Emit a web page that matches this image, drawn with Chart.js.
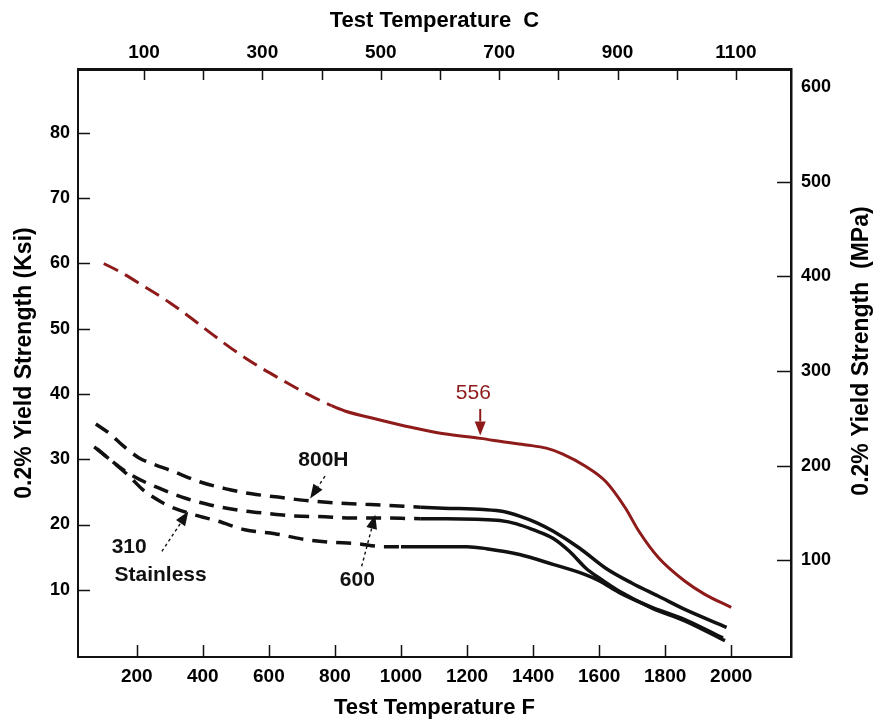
<!DOCTYPE html>
<html>
<head>
<meta charset="utf-8">
<title>Yield strength vs test temperature</title>
<script src="https://cdn.jsdelivr.net/npm/chart.js@4.4.1/dist/chart.umd.min.js"></script>
<style>
  html, body { margin: 0; padding: 0; background: #fff; }
  #wrap { width: 877px; height: 721px; }
</style>
</head>
<body>
<div id="wrap"><canvas id="chart" width="877" height="721"></canvas></div>
<script>
// ========== DATA ==========
const F_TICKS = [200, 400, 600, 800, 1000, 1200, 1400, 1600, 1800, 2000];
const C_TICKS = [100, 200, 300, 400, 500, 600, 700, 800, 900, 1000, 1100];
const KSI_TICKS = [10, 20, 30, 40, 50, 60, 70, 80];
const MPA_TICKS = [100, 200, 300, 400, 500, 600];

// alloy 556 (red)
const temp556 = [100, 150, 225, 300, 360, 430, 500, 570, 645, 720, 790, 830, 930, 1030, 1130, 1240, 1320, 1380, 1440, 1490, 1560, 1620, 1680, 1720, 1780, 1860, 1920, 2000];
const ksi556 = [60.0, 58.7, 56.4, 54.0, 51.8, 49.1, 46.5, 44.2, 42.0, 39.9, 38.2, 37.4, 36.1, 34.9, 33.9, 33.2, 32.6, 32.2, 31.7, 30.8, 28.9, 26.6, 22.5, 19.0, 14.9, 11.3, 9.3, 7.3];

// alloy 800H
const temp800H = [76, 116, 160, 207, 247, 307, 387, 467, 548, 628, 708, 808, 908, 1009, 1060, 1129, 1250, 1310, 1359, 1410, 1460, 1540, 1620, 1700, 1780, 1861, 1986];
const ksi800H = [35.4, 34.0, 32.0, 30.2, 29.3, 28.2, 26.6, 25.5, 24.7, 24.2, 23.7, 23.3, 23.05, 22.8, 22.65, 22.5, 22.3, 22.0, 21.3, 20.3, 19.0, 16.4, 13.3, 11.0, 9.0, 6.95, 4.25];

// alloy 600
const temp600 = [71, 176, 266, 337, 422, 508, 594, 679, 769, 850, 940, 1060, 1140, 1230, 1300, 1350, 1400, 1460, 1510, 1560, 1600, 1660, 1760, 1861, 1981];
const ksi600 = [31.9, 27.8, 25.6, 24.2, 23.0, 22.2, 21.7, 21.3, 21.2, 21.0, 21.0, 20.9, 20.9, 20.8, 20.6, 20.1, 19.2, 17.9, 15.9, 13.3, 11.8, 9.8, 7.2, 5.2, 2.2];

// 310 stainless
const temp310 = [80, 177, 217, 287, 367, 447, 527, 618, 698, 783, 863, 948, 1000, 1079, 1199, 1259, 1359, 1460, 1560, 1600, 1660, 1760, 1861, 1975];
const ksi310 = [31.6, 27.4, 25.4, 23.1, 21.6, 20.5, 19.2, 18.6, 17.8, 17.3, 17.1, 16.6, 16.6, 16.6, 16.6, 16.3, 15.4, 13.9, 12.3, 11.4, 9.6, 7.3, 5.4, 2.6];

// ========== STYLE ==========
const FONT = "'Liberation Sans', Arial, Helvetica, sans-serif";
const RED = "#8e1a1a";
const INK = "#111111";

// where each curve turns from dashed to solid (deg F)
const DASH_UNTIL_556 = 800;
const DASH_UNTIL_800H = 1060;
const DASH_UNTIL_600 = 1060;
const DASH_UNTIL_310 = 1000;

// callouts in data units (deg F, ksi)
const curveLabels = [
  { text: "556", x: 1219, y: 40.1, color: RED, weight: "normal" },
  { text: "800H", x: 765, y: 29.85, color: INK, weight: "bold" },
  { text: "600", x: 868, y: 11.4, color: INK, weight: "bold" },
  { text: "310", x: 177, y: 16.45, color: INK, weight: "bold" },
  { text: "Stainless", x: 272, y: 12.2, color: INK, weight: "bold" },
];
const arrows = [
  { from: [1240, 37.7], to: [1240, 33.65], color: RED, dashed: false },
  { from: [770, 27.4], to: [725, 24.0], color: INK, dashed: true },
  { from: [881, 13.6], to: [922, 21.5], color: INK, dashed: true },
  { from: [276, 15.9], to: [356, 22.0], color: INK, dashed: true },
];

// ========== SERIES ==========
const makeSeries = (label, temps, vals, color, width, dashUntil, dash) => ({
  label,
  data: temps.map((t, i) => ({ x: t, y: vals[i] })),
  borderColor: color,
  borderWidth: width,
  pointRadius: 0,
  fill: false,
  cubicInterpolationMode: "monotone",
  xAxisID: "x",
  yAxisID: "y",
  segment: {
    borderDash: (c) => (c.p1.parsed.x <= dashUntil ? dash : undefined),
  },
});

// ========== DECORATION PLUGIN ==========
const drawArrow = (ctx, x1, y1, x2, y2, color, dashed) => {
  const ang = Math.atan2(y2 - y1, x2 - x1);
  const headLen = 14;
  const headHalf = 5.5;
  const bx = x2 - headLen * Math.cos(ang);
  const by = y2 - headLen * Math.sin(ang);
  ctx.save();
  ctx.strokeStyle = color;
  ctx.fillStyle = color;
  ctx.lineWidth = dashed ? 1.4 : 2;
  ctx.setLineDash(dashed ? [3, 3] : []);
  ctx.beginPath();
  ctx.moveTo(x1, y1);
  ctx.lineTo(bx, by);
  ctx.stroke();
  ctx.setLineDash([]);
  ctx.beginPath();
  ctx.moveTo(x2, y2);
  ctx.lineTo(bx + headHalf * Math.sin(ang), by - headHalf * Math.cos(ang));
  ctx.lineTo(bx - headHalf * Math.sin(ang), by + headHalf * Math.cos(ang));
  ctx.closePath();
  ctx.fill();
  ctx.restore();
};

const decorPlugin = {
  id: "decor",
  afterDraw(chart) {
    const { ctx, chartArea, scales } = chart;
    const { x, xTop, y, yRight } = scales;
    ctx.save();

    // inward tick marks
    ctx.strokeStyle = INK;
    ctx.lineWidth = 1.5;
    ctx.beginPath();
    F_TICKS.forEach((v) => {
      const px = Math.round(x.getPixelForValue(v)) + 0.5;
      ctx.moveTo(px, chartArea.bottom);
      ctx.lineTo(px, chartArea.bottom - 12);
    });
    C_TICKS.forEach((v) => {
      const px = Math.round(xTop.getPixelForValue(v)) + 0.5;
      ctx.moveTo(px, chartArea.top);
      ctx.lineTo(px, chartArea.top + 11);
    });
    KSI_TICKS.forEach((v) => {
      const py = Math.round(y.getPixelForValue(v)) + 0.5;
      ctx.moveTo(chartArea.left, py);
      ctx.lineTo(chartArea.left + 12, py);
    });
    MPA_TICKS.slice(0, 5).forEach((v) => {
      const py = Math.round(yRight.getPixelForValue(v)) + 0.5;
      ctx.moveTo(chartArea.right, py);
      ctx.lineTo(chartArea.right - 14, py);
    });
    ctx.stroke();

    // right axis title, reading bottom to top
    ctx.save();
    ctx.translate(862, (chartArea.top + chartArea.bottom) / 2 - 12);
    ctx.rotate(-Math.PI / 2);
    ctx.fillStyle = "#000";
    ctx.font = `bold 23px ${FONT}`;
    ctx.textAlign = "center";
    ctx.textBaseline = "middle";
    ctx.fillText("0.2% Yield Strength  (MPa)", 0, 0);
    ctx.restore();

    // callout labels
    ctx.textAlign = "center";
    ctx.textBaseline = "middle";
    curveLabels.forEach((lab) => {
      ctx.fillStyle = lab.color;
      ctx.font = `${lab.weight} 21px ${FONT}`;
      ctx.fillText(lab.text, x.getPixelForValue(lab.x), y.getPixelForValue(lab.y));
    });

    // callout arrows
    arrows.forEach((a) => {
      drawArrow(
        ctx,
        x.getPixelForValue(a.from[0]), y.getPixelForValue(a.from[1]),
        x.getPixelForValue(a.to[0]), y.getPixelForValue(a.to[1]),
        a.color, a.dashed
      );
    });

    ctx.restore();
  },
};

// ========== CHART ==========
const tickFont = (size) => ({ family: FONT, size, weight: "bold" });
const hiddenGrid = { display: true, drawOnChartArea: false, drawTicks: false };
const plain = (v) => String(v);

new Chart(document.getElementById("chart"), {
  type: "line",
  data: {
    datasets: [
      makeSeries("556", temp556, ksi556, RED, 3, DASH_UNTIL_556, [16, 8]),
      makeSeries("800H", temp800H, ksi800H, INK, 3.5, DASH_UNTIL_800H, [15, 9]),
      makeSeries("600", temp600, ksi600, INK, 3.5, DASH_UNTIL_600, [15, 9]),
      makeSeries("310 Stainless", temp310, ksi310, INK, 3.5, DASH_UNTIL_310, [15, 9]),
    ],
  },
  options: {
    responsive: false,
    animation: false,
    devicePixelRatio: 1,
    layout: { padding: 0 },
    plugins: { legend: { display: false }, tooltip: { enabled: false } },
    scales: {
      x: {
        type: "linear",
        position: "bottom",
        min: 22,
        max: 2181,
        afterBuildTicks: (s) => { s.ticks = F_TICKS.map((v) => ({ value: v })); },
        afterFit: (s) => { s.height = 64; },
        grid: hiddenGrid,
        border: { display: true, color: INK, width: 2 },
        ticks: { color: "#000", font: tickFont(19), padding: 8, maxRotation: 0, autoSkip: false, callback: plain },
        title: {
          display: true, text: "Test Temperature F", color: "#000",
          font: tickFont(22), padding: { top: 0, bottom: 0 },
        },
      },
      xTop: {
        type: "linear",
        position: "top",
        min: -11.5,
        max: 1193,
        afterBuildTicks: (s) => { s.ticks = C_TICKS.map((v) => ({ value: v })); },
        afterFit: (s) => { s.height = 69; },
        grid: hiddenGrid,
        border: { display: true, color: INK, width: 3 },
        ticks: {
          color: "#000", font: tickFont(19), padding: 5, maxRotation: 0, autoSkip: false,
          callback: (v) => ((v / 100) % 2 === 1 ? String(v) : ""),
        },
        title: {
          display: true, text: "Test Temperature  C", color: "#000",
          font: tickFont(22), padding: { top: 8, bottom: 0 },
        },
      },
      y: {
        type: "linear",
        position: "left",
        min: -0.3,
        max: 89.8,
        afterBuildTicks: (s) => { s.ticks = KSI_TICKS.map((v) => ({ value: v })); },
        afterFit: (s) => { s.width = 78; },
        grid: hiddenGrid,
        border: { display: true, color: INK, width: 2 },
        ticks: { color: "#000", font: tickFont(18), padding: 8, callback: plain },
        title: {
          display: true, text: "0.2% Yield Strength (Ksi)", color: "#000",
          font: tickFont(23), padding: { top: 11, bottom: 0 },
        },
      },
      yRight: {
        type: "linear",
        position: "right",
        min: -2,
        max: 619,
        afterBuildTicks: (s) => { s.ticks = MPA_TICKS.map((v) => ({ value: v })); },
        afterFit: (s) => { s.width = 86; },
        grid: hiddenGrid,
        border: { display: true, color: INK, width: 2.5 },
        ticks: { color: "#000", font: tickFont(18), padding: 10, callback: plain },
      },
    },
  },
  plugins: [decorPlugin],
});
</script>
</body>
</html>
